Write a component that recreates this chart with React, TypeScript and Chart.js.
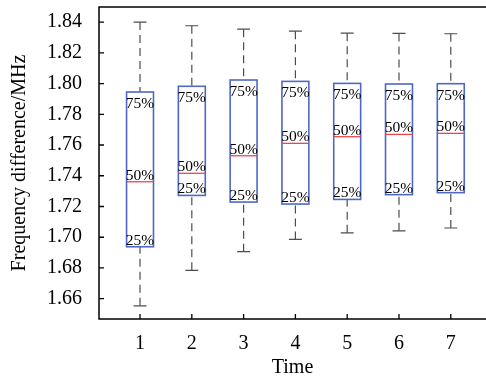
import React, { useEffect, useRef } from "react";
import { Chart, registerables } from "chart.js";

Chart.register(...registerables);

const times = [1, 2, 3, 4, 5, 6, 7];
const whiskerHigh = [1.84, 1.8376, 1.8354, 1.8341, 1.8328, 1.8326, 1.8324];
const q3 = [1.7945, 1.7982, 1.8023, 1.8014, 1.8001, 1.7997, 1.7999];
const median = [1.7361, 1.7416, 1.753, 1.7611, 1.7654, 1.7669, 1.7676];
const q1 = [1.6938, 1.7272, 1.7229, 1.7216, 1.7246, 1.7277, 1.729];
const whiskerLow = [1.6554, 1.6785, 1.6906, 1.6986, 1.7029, 1.7042, 1.706];
const yTicks = [1.66, 1.68, 1.7, 1.72, 1.74, 1.76, 1.78, 1.8, 1.82, 1.84];
const quartileLabels = ["25%", "50%", "75%"];

const FONT = "'Liberation Serif', 'Times New Roman', serif";

const boxPlugin = {
  id: "boxPlot",
  afterDatasetsDraw(chart: any) {
    const { ctx, chartArea, scales } = chart;
    const xs = scales.x;
    const ys = scales.y;
    const boxW = 0.52;
    const capW = 0.25;
    ctx.save();
    times.forEach((t, i) => {
      const cx = xs.getPixelForValue(t);
      const xl = xs.getPixelForValue(t - boxW / 2);
      const xr = xs.getPixelForValue(t + boxW / 2);
      const cl = xs.getPixelForValue(t - capW / 2);
      const cr = xs.getPixelForValue(t + capW / 2);
      const yHi = ys.getPixelForValue(whiskerHigh[i]);
      const yQ3 = ys.getPixelForValue(q3[i]);
      const yMed = ys.getPixelForValue(median[i]);
      const yQ1 = ys.getPixelForValue(q1[i]);
      const yLo = ys.getPixelForValue(whiskerLow[i]);

      ctx.strokeStyle = "#4d4d4d";
      ctx.lineWidth = 1.2;
      ctx.setLineDash([8, 5]);
      ctx.beginPath();
      ctx.moveTo(cx, yHi);
      ctx.lineTo(cx, yQ3);
      ctx.moveTo(cx, yLo);
      ctx.lineTo(cx, yQ1);
      ctx.stroke();
      ctx.setLineDash([]);
      ctx.beginPath();
      ctx.moveTo(cl, yHi);
      ctx.lineTo(cr, yHi);
      ctx.moveTo(cl, yLo);
      ctx.lineTo(cr, yLo);
      ctx.stroke();

      ctx.strokeStyle = "#4f68c6";
      ctx.lineWidth = 1.6;
      ctx.strokeRect(xl, yQ3, xr - xl, yQ1 - yQ3);

      ctx.strokeStyle = "#e8474f";
      ctx.lineWidth = 1.3;
      ctx.beginPath();
      ctx.moveTo(xl, yMed);
      ctx.lineTo(xr, yMed);
      ctx.stroke();

      ctx.fillStyle = "#000";
      ctx.font = `15.5px ${FONT}`;
      ctx.textAlign = "center";
      ctx.textBaseline = "alphabetic";
      ctx.fillText(quartileLabels[2], cx, yQ3 + 16);
      ctx.fillText(quartileLabels[1], cx, yMed - 2);
      ctx.fillText(quartileLabels[0], cx, yQ1 - 2);
    });

    ctx.strokeStyle = "#000";
    ctx.lineWidth = 1.5;
    ctx.beginPath();
    ctx.moveTo(chartArea.right, chartArea.top);
    ctx.lineTo(chartArea.left, chartArea.top);
    ctx.lineTo(chartArea.left, chartArea.bottom);
    ctx.lineTo(chartArea.right, chartArea.bottom);
    ctx.stroke();

    ctx.lineWidth = 1.3;
    ctx.beginPath();
    times.forEach((t) => {
      const px = xs.getPixelForValue(t);
      ctx.moveTo(px, chartArea.bottom);
      ctx.lineTo(px, chartArea.bottom - 5);
    });
    yTicks.forEach((v) => {
      const py = ys.getPixelForValue(v);
      ctx.moveTo(chartArea.left, py);
      ctx.lineTo(chartArea.left + 5, py);
    });
    ctx.stroke();
    ctx.restore();
  },
};

export default function App() {
  const ref = useRef<HTMLCanvasElement>(null);
  useEffect(() => {
    document.body.style.margin = "0";
    const canvas = ref.current;
    if (!canvas) return;
    const chart = new Chart(canvas, {
      type: "scatter",
      data: { datasets: [] },
      options: {
        animation: false,
        responsive: false,
        devicePixelRatio: 1,
        layout: { padding: { top: 7, left: 0, right: 0, bottom: 0 } },
        plugins: { legend: { display: false }, tooltip: { enabled: false } },
        scales: {
          x: {
            type: "linear",
            min: 0.208,
            max: 7.68,
            grid: { display: false, drawTicks: false },
            border: { display: false },
            afterBuildTicks: (s: any) => {
              s.ticks = times.map((v) => ({ value: v }));
            },
            afterFit: (s: any) => {
              s.height = 59;
              s.paddingLeft = 0;
              s.paddingRight = 0;
            },
            ticks: {
              padding: 13,
              color: "#000",
              font: { family: FONT, size: 20 },
              callback: (v: any) => String(v),
            },
            title: {
              display: true,
              text: "Time",
              color: "#000",
              font: { family: FONT, size: 20 },
              padding: { top: 0, bottom: -2 },
            },
          },
          y: {
            type: "linear",
            min: 1.6468,
            max: 1.8498,
            grid: { display: false, drawTicks: false },
            border: { display: false },
            afterBuildTicks: (s: any) => {
              s.ticks = yTicks.map((v) => ({ value: v }));
            },
            afterFit: (s: any) => {
              s.width = 99;
              s.paddingTop = 0;
              s.paddingBottom = 0;
            },
            ticks: {
              padding: 17,
              color: "#000",
              font: { family: FONT, size: 20 },
              callback: (v: any) => Number(v).toFixed(2),
            },
            title: {
              display: true,
              text: "Frequency difference/MHz",
              color: "#000",
              font: { family: FONT, size: 20 },
              padding: { top: 8, bottom: 0 },
            },
          },
        },
      },
      plugins: [boxPlugin],
    });
    return () => chart.destroy();
  }, []);
  return <canvas ref={ref} width={486} height={378} style={{ display: "block" }} />;
}
